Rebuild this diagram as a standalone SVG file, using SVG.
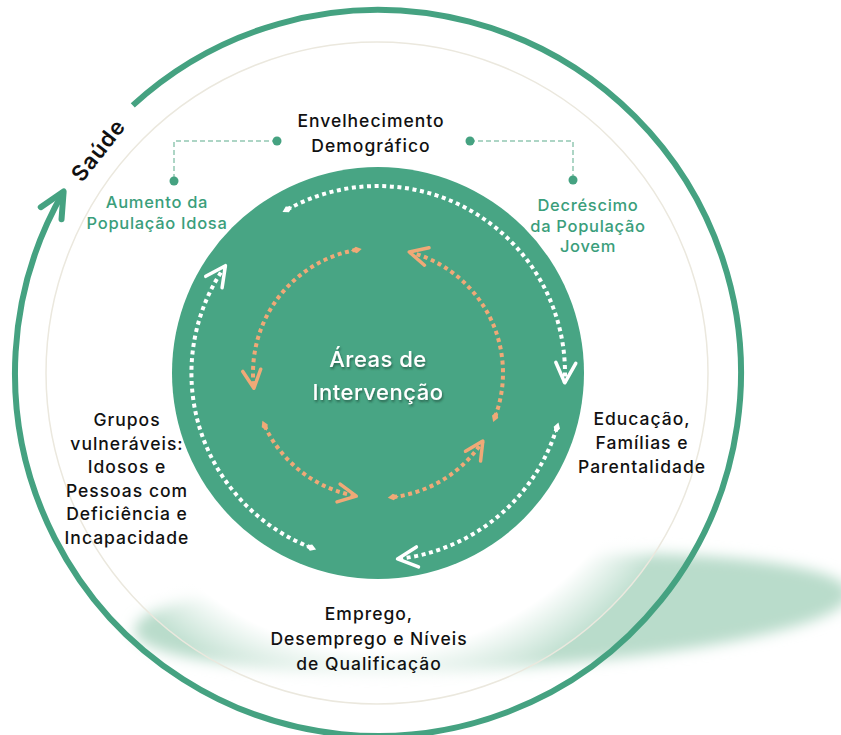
<svg xmlns="http://www.w3.org/2000/svg" width="841" height="735" viewBox="0 0 841 735">
  <defs>
    <style>
      .lbl { font-family: Inter, "DejaVu Sans", "Liberation Sans", sans-serif; font-weight: 500; font-size: 17.5px; letter-spacing: 1px; fill: #111111; text-anchor: middle; }
      .sub { font-family: Inter, "DejaVu Sans", "Liberation Sans", sans-serif; font-weight: 500; font-size: 16.5px; letter-spacing: 0.7px; fill: #3a9e7b; text-anchor: middle; }
      .ctr { font-family: Inter, "DejaVu Sans", "Liberation Sans", sans-serif; font-weight: 500; font-size: 22px; letter-spacing: 0.5px; fill: #ffffff; text-anchor: middle; }
      .wdot { fill: none; stroke: #ffffff; stroke-width: 4; stroke-dasharray: 4 3.6; }
      .odot { fill: none; stroke: #f0a977; stroke-width: 4; stroke-dasharray: 4 3.6; }
      .dash { fill: none; stroke: #93c7b3; stroke-width: 1.5; stroke-dasharray: 5 3; }
      .pin { fill: #45a281; }
    </style>
    <radialGradient id="interior" cx="377" cy="373" r="331" gradientUnits="userSpaceOnUse">
      <stop offset="0" stop-color="#ffffff" stop-opacity="1"/>
      <stop offset="0.84" stop-color="#ffffff" stop-opacity="1"/>
      <stop offset="1" stop-color="#ffffff" stop-opacity="0.15"/>
    </radialGradient>
    <filter id="blurShadow" x="-20%" y="-50%" width="140%" height="200%">
      <feGaussianBlur stdDeviation="7"/>
    </filter>
    <filter id="txtShadow" x="-20%" y="-40%" width="140%" height="180%">
      <feDropShadow dx="1" dy="2" stdDeviation="1.2" flood-color="#1c4636" flood-opacity="0.65"/>
    </filter>
    <marker id="bigArrow" markerUnits="userSpaceOnUse" orient="auto" overflow="visible" markerWidth="1" markerHeight="1">
      <path d="M-25,-12 L0,0 L-25,12" fill="none" stroke="#45a281" stroke-width="6" stroke-linecap="round" stroke-linejoin="round"/>
    </marker>
    <marker id="wArrow" markerUnits="userSpaceOnUse" orient="auto" overflow="visible" markerWidth="1" markerHeight="1">
      <path d="M-20,-10 L0,0 L-20,10" fill="none" stroke="#ffffff" stroke-width="3.5" stroke-linecap="round" stroke-linejoin="round"/>
    </marker>
    <marker id="oArrow" markerUnits="userSpaceOnUse" orient="auto" overflow="visible" markerWidth="1" markerHeight="1">
      <path d="M-18,-9 L0,0 L-18,9" fill="none" stroke="#f0a977" stroke-width="3.5" stroke-linecap="round" stroke-linejoin="round"/>
    </marker>
    <marker id="wDiamond" markerUnits="userSpaceOnUse" orient="auto" overflow="visible" markerWidth="1" markerHeight="1">
      <path d="M-5.5,0 L0,-3.3 L5.5,0 L0,3.3 Z" fill="#ffffff"/>
    </marker>
    <marker id="oDiamond" markerUnits="userSpaceOnUse" orient="auto" overflow="visible" markerWidth="1" markerHeight="1">
      <path d="M-5.5,0 L0,-3.3 L5.5,0 L0,3.3 Z" fill="#f0a977"/>
    </marker>
  </defs>

  <rect x="0" y="0" width="841" height="735" fill="#ffffff"/>

  <!-- floor shadow -->
  <ellipse cx="492" cy="612" rx="358" ry="56" transform="rotate(-3 492 612)" fill="#b9dccb" filter="url(#blurShadow)"/>

  <!-- white interior with thin rim -->
  <circle cx="377" cy="373" r="331" fill="url(#interior)"/>
  <circle cx="377" cy="373" r="331" fill="none" stroke="#ebe8de" stroke-width="1.5"/>

  <!-- outer health arc -->
  <g id="saude">
    <path d="M132.76,105.37 A363,363 0 1 1 63.63,191.5" fill="none" stroke="#45a281" stroke-width="6" marker-end="url(#bigArrow)"/>
    <text class="lbl" style="font-size:22px;font-weight:600" transform="translate(98,150) rotate(-52)" x="0" y="8">Saúde</text>
  </g>

  <!-- central disc -->
  <g id="areas">
    <circle cx="378" cy="373" r="206" fill="#48a584"/>
    <text class="ctr" x="378" y="367" filter="url(#txtShadow)">Áreas de</text>
    <text class="ctr" x="378" y="400" filter="url(#txtShadow)">Intervenção</text>
  </g>

  <g id="connectors">
    <!-- white outer cycle -->
    <path class="wdot" d="M287.34,209.45 A187,187 0 0 1 564.74,382.79" marker-start="url(#wDiamond)" marker-end="url(#wArrow)"/>
    <path class="wdot" d="M556.83,427.67 A187,187 0 0 1 397.55,558.98" marker-start="url(#wDiamond)" marker-end="url(#wArrow)"/>
    <path class="wdot" d="M310.98,547.58 A187,187 0 0 1 225.4,265.7" marker-start="url(#wDiamond)" marker-end="url(#wArrow)"/>
    <!-- orange inner cycle -->
    <path class="odot" d="M356.29,249.90 A125,125 0 0 0 253.93,388.23" marker-start="url(#oDiamond)" marker-end="url(#oArrow)"/>
    <path class="odot" d="M495.08,416.78 A125,125 0 0 0 409.30,251.98" marker-start="url(#oDiamond)" marker-end="url(#oArrow)"/>
    <path class="odot" d="M264.71,425.83 A125,125 0 0 0 356.29,496.10" marker-start="url(#oDiamond)" marker-end="url(#oArrow)"/>
    <path class="odot" d="M393.23,497.07 A125,125 0 0 0 482.83,441.08" marker-start="url(#oDiamond)" marker-end="url(#oArrow)"/>
    <!-- dashed leaders -->
    <path class="dash" d="M277,141 H174 V181"/>
    <path class="dash" d="M470,141 H573 V180"/>
    <circle class="pin" cx="277" cy="141" r="4.5"/>
    <circle class="pin" cx="174" cy="181" r="4.5"/>
    <circle class="pin" cx="470" cy="141" r="4.5"/>
    <circle class="pin" cx="573" cy="180" r="4.5"/>
  </g>

  <g id="envelhecimento">
    <text class="lbl" x="371" y="127">Envelhecimento</text>
    <text class="lbl" x="371" y="152">Demográfico</text>
  </g>

  <g id="aumento">
    <text class="sub" x="157" y="208">Aumento da</text>
    <text class="sub" x="157" y="229">População Idosa</text>
  </g>

  <g id="decrescimo">
    <text class="sub" x="588" y="211">Decréscimo</text>
    <text class="sub" x="588" y="232">da População</text>
    <text class="sub" x="588" y="252">Jovem</text>
  </g>

  <g id="educacao">
    <text class="lbl" x="642" y="425">Educação,</text>
    <text class="lbl" x="642" y="449">Famílias e</text>
    <text class="lbl" x="642" y="473">Parentalidade</text>
  </g>

  <g id="grupos">
    <text class="lbl" x="127" y="426">Grupos</text>
    <text class="lbl" x="127" y="449.5">vulneráveis:</text>
    <text class="lbl" x="127" y="473">Idosos e</text>
    <text class="lbl" x="127" y="496.5">Pessoas com</text>
    <text class="lbl" x="127" y="520">Deficiência e</text>
    <text class="lbl" x="127" y="543.5">Incapacidade</text>
  </g>

  <g id="emprego">
    <text class="lbl" x="369" y="620">Emprego,</text>
    <text class="lbl" x="369" y="645">Desemprego e Níveis</text>
    <text class="lbl" x="369" y="670">de Qualificação</text>
  </g>
</svg>
